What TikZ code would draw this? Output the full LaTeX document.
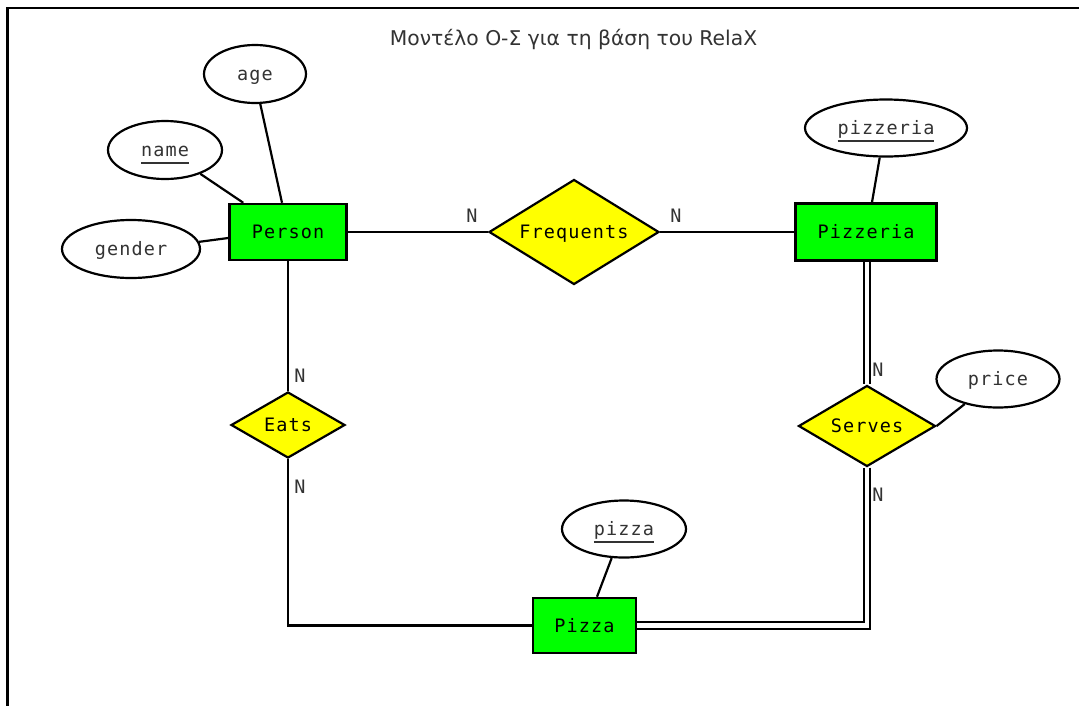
\documentclass[tikz,border=0pt]{standalone}
\usepackage{fontspec}
\setmainfont{DejaVu Sans}
\newfontfamily\monof[LetterSpace=6]{DejaVu Sans Mono}
\usetikzlibrary{shapes.geometric,calc}
\pgfdeclarelayer{bg}
\pgfsetlayers{bg,main}
\definecolor{egreen}{HTML}{00FF00}
\definecolor{ryellow}{HTML}{FFFF00}
\definecolor{tgrey}{HTML}{333333}
\newcommand\keyul[1]{\setbox0=\hbox{#1}\rlap{\copy0}\raisebox{-7pt}[0pt][0pt]{\rule{\wd0}{2pt}}}
\newcommand\nodefont{\monof\fontsize{18.5}{22}\selectfont}
\begin{document}
\begin{tikzpicture}[x=1pt,y=-1pt,
  centred/.style={text height=13.5pt, text depth=0pt},
  entity/.style={draw=black, line width=2.5pt, fill=egreen, rectangle, inner sep=0pt, font=\nodefont, text=black, centred},
  rel/.style={draw=black, line width=2.2pt, fill=ryellow, diamond, inner sep=0pt, font=\nodefont, text=black, centred},
  attr/.style={draw=black, line width=2.2pt, fill=white, ellipse, inner sep=0pt, font=\nodefont, text=tgrey, centred},
  card/.style={inner sep=0pt, font=\nodefont, text=tgrey, centred},
  conn/.style={line width=2.2pt},
  dbl/.style={double=white, double distance=4.5pt, line width=2pt}]
\useasboundingbox (0,0) rectangle (1079,705);
\draw[line width=2.8pt] (7.5,710) -- (7.5,8) -- (1085,8);

\node[font=\fontsize{20.3}{24}\selectfont, text=tgrey, anchor=base, inner sep=0pt] (title) at (573.5,45.7) {Μοντέλο Ο-Σ για τη βάση του RelaX};

\node[attr, minimum width=102, minimum height=58] (age) at (255,74) {age};
\node[attr, minimum width=114, minimum height=58] (name) at (165,150) {\keyul{name}};
\node[attr, minimum width=138, minimum height=58] (gender) at (131,249) {gender};
\node[entity, minimum width=117, minimum height=56] (person) at (288,232) {Person};
\node[rel, minimum width=170, minimum height=105, aspect=1.62] (freq) at (574,232) {Frequents};
\node[entity, minimum width=141, minimum height=57] (pizzeria) at (866,232) {Pizzeria};
\node[attr, minimum width=162, minimum height=57] (pizzeriaA) at (886,128) {\keyul{pizzeria}};
\node[rel, minimum width=137, minimum height=81, aspect=1.69] (serves) at (867,426) {Serves};
\node[attr, minimum width=123, minimum height=57] (price) at (998,379) {price};
\node[rel, minimum width=114, minimum height=66, aspect=1.73] (eats) at (288,425) {Eats};
\node[entity, minimum width=103, minimum height=55] (pizza) at (584.5,625.5) {Pizza};
\node[attr, minimum width=124, minimum height=57] (pizzaA) at (624,529) {\keyul{pizza}};

\node[card] (n1) at (472,216) {N};
\node[card] (n2) at (676,216) {N};
\node[card] (n3) at (300,376) {N};
\node[card] (n4) at (300,487) {N};
\node[card] (n5) at (878,370) {N};
\node[card] (n6) at (878,495) {N};

\begin{pgfonlayer}{bg}
\fill[white] (0,0) rectangle (1079,705);
\draw[conn] (person.east) -- (freq.west);
\draw[conn] (freq.east) -- (pizzeria.west);
\draw[conn] (person.south) -- (eats.north);
\draw[conn] (eats.south) |- (pizza.west);
\draw[dbl] (pizzeria.south -| serves.north) -- (serves.north);
\draw[dbl] (serves.south) |- (pizza.east);
\draw[conn] (age.280) -- ([xshift=-6pt]person.north);
\draw[conn] (name.-34) -- ([xshift=15pt]person.north west);
\draw[conn] (gender.6) -- ([yshift=-6pt]person.west);
\draw[conn] (pizzeriaA.258) -- ([xshift=6pt]pizzeria.north);
\draw[conn] (price.217) -- (serves.east);
\draw[conn] (pizzaA.247) -- ([xshift=12.5pt]pizza.north);
\end{pgfonlayer}
\end{tikzpicture}
\end{document}
